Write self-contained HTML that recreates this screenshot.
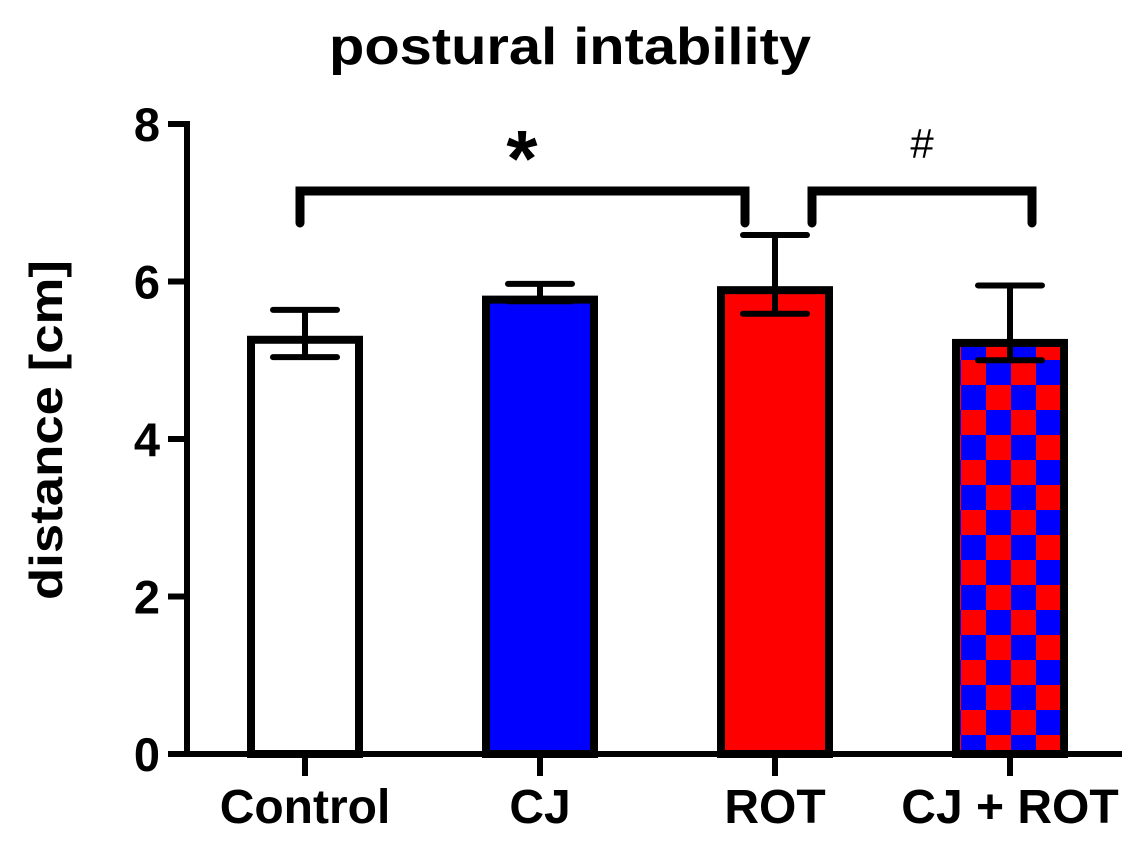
<!DOCTYPE html>
<html><head><meta charset="utf-8"><style>
html,body{margin:0;padding:0;background:#fff;}
svg{display:block;font-family:"Liberation Sans",Arial,sans-serif;font-weight:bold;}
</style></head><body>
<svg id="chart" width="1137" height="846" viewBox="0 0 1137 846" xmlns="http://www.w3.org/2000/svg">
<defs>
<pattern id="checker" patternUnits="userSpaceOnUse" x="961" y="360" width="50" height="50">
<rect x="0" y="0" width="50" height="50" fill="#0000ff"/>
<rect x="0" y="0" width="25" height="25" fill="#ff0000"/>
<rect x="25" y="25" width="25" height="25" fill="#ff0000"/>
</pattern>
</defs>
<text x="570" y="64" text-anchor="middle" font-size="52" textLength="482" lengthAdjust="spacingAndGlyphs">postural intability</text>
<text transform="translate(62,430) rotate(-90)" text-anchor="middle" font-size="46" textLength="340" lengthAdjust="spacingAndGlyphs">distance [cm]</text>
<g id="axes"></g>
<g id="bars"></g>
<g id="annot"></g>
</svg>
<script>
const categories = ["Control","CJ","ROT","CJ + ROT"];
const means = [5.26, 5.77, 5.89, 5.22];
const errUp = [0.38, 0.2, 0.7, 0.73];
const errLow = [0.22, 0.02, 0.3, 0.22];
const yTicks = [0,2,4,6,8];
const fills = ["#ffffff","#0000ff","#ff0000","url(#checker)"];

const NS = "http://www.w3.org/2000/svg";
const y0 = 754, pxPerUnit = 78.75;
const yS = v => y0 - v * pxPerUnit;
const xC = i => 305 + i * 235;
const barW = 108;
function mk(tag, attrs, parent, txt){
  const e = document.createElementNS(NS, tag);
  for (const k in attrs) e.setAttribute(k, attrs[k]);
  if (txt !== undefined) e.textContent = txt;
  parent.appendChild(e); return e;
}
const axes = document.getElementById('axes');
const bars = document.getElementById('bars');
const annot = document.getElementById('annot');

const yAxis = mk('line',{x1:187,y1:yS(8)-3,x2:187,y2:y0,stroke:'#000','stroke-width':6},axes);


const xAxis = mk('line',{x1:184,y1:y0,x2:1122,y2:y0,stroke:'#000','stroke-width':6},axes);



yTicks.forEach(t=>{
  const tk = mk('line',{x1:168,y1:yS(t),x2:190,y2:yS(t),stroke:'#000','stroke-width':6},axes);
  
  
  const lb = mk('text',{x:160,y:yS(t)+17,'text-anchor':'end','font-size':47},axes,String(t));
  
  
});

categories.forEach((c,i)=>{
  const x = xC(i);
  const tk = mk('line',{x1:x,y1:y0,x2:x,y2:y0+22,stroke:'#000','stroke-width':6},axes);
  
  
  const lb = mk('text',{x:x,y:823,'text-anchor':'middle','font-size':48},axes,c);
  
  

  const top = yS(means[i]);
  const r = mk('rect',{x:x-barW/2,y:top,width:barW,height:y0-top,fill:fills[i],stroke:'#000','stroke-width':8},bars);
  
  

  const eu = yS(means[i]+errUp[i]), el = yS(means[i]-errLow[i]);
  const ev = mk('line',{x1:x,y1:eu,x2:x,y2:el,stroke:'#000','stroke-width':6},bars);
  
  
  const c1 = mk('line',{x1:x-32,y1:eu,x2:x+32,y2:eu,stroke:'#000','stroke-width':6,'stroke-linecap':'round'},bars);
  
  
  const c2 = mk('line',{x1:x-32,y1:el,x2:x+32,y2:el,stroke:'#000','stroke-width':6,'stroke-linecap':'round'},bars);
  
  
});

const b1 = mk('path',{d:'M300 223 V191 H745 V223',fill:'none',stroke:'#000','stroke-width':9,'stroke-linecap':'round','stroke-linejoin':'miter'},annot);


const b2 = mk('path',{d:'M812 223 V191 H1032 V223',fill:'none',stroke:'#000','stroke-width':9,'stroke-linecap':'round','stroke-linejoin':'miter'},annot);


const s1 = mk('text',{x:522,y:186,'text-anchor':'middle','font-size':80},annot,'*');


const s2 = mk('text',{x:922,y:158,'text-anchor':'middle','font-size':42,'font-weight':'normal'},annot,'#');


</script>
</body></html>
